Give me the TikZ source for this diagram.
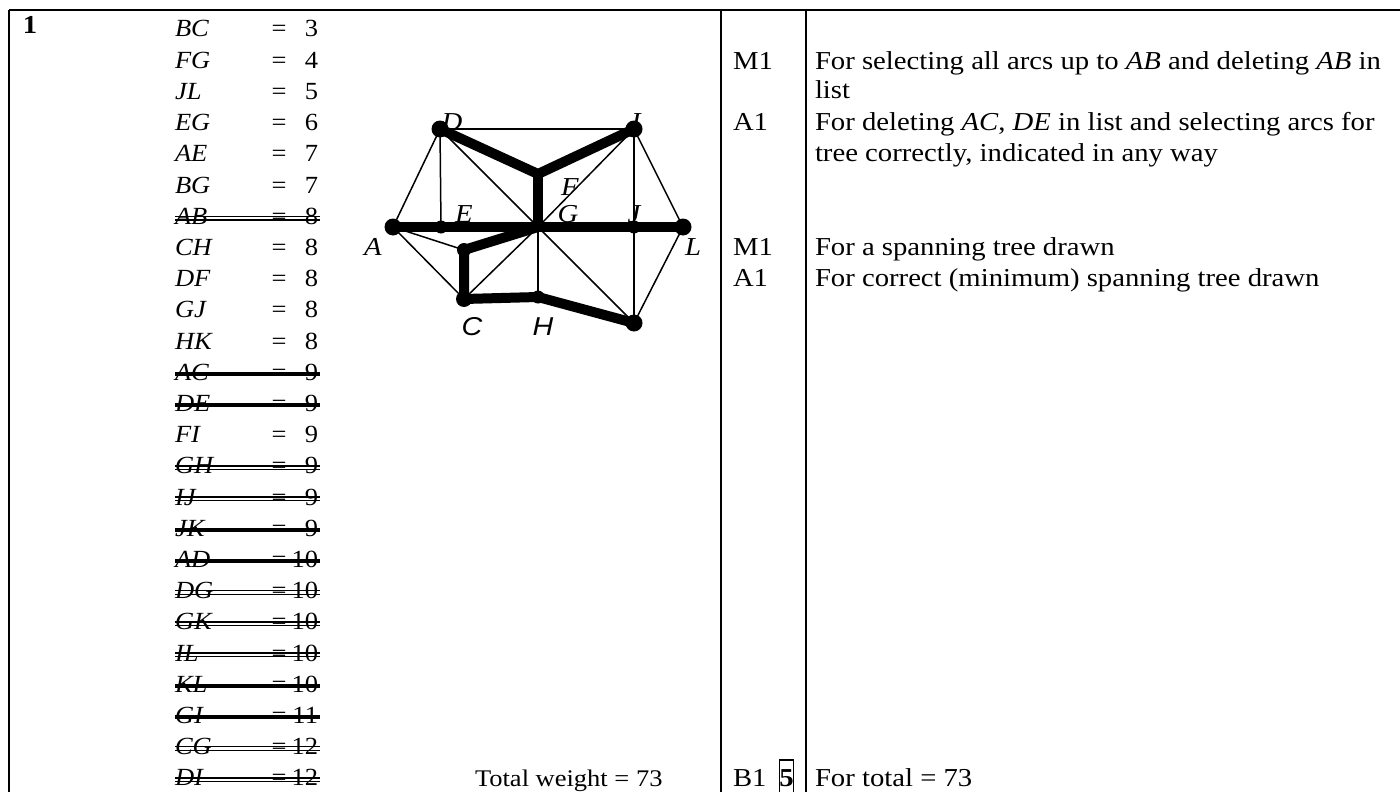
\documentclass[tikz,border=0pt]{standalone}
\usepackage{fontspec}
\setmainfont{Liberation Serif}
\newfontfamily\labsans{Liberation Sans}
\usepackage{graphicx}
\newcommand\sqz[1]{\scalebox{1}[0.9]{#1}}
\newcommand\sqzl[1]{\scalebox{1}[0.93]{#1}}
\tikzset{
  txt/.style={font=\fontsize{28.7}{34}\selectfont, inner sep=0pt, outer sep=0pt},
  listtxt/.style={font=\fontsize{26.5}{32}\selectfont, inner sep=0pt, outer sep=0pt},
  grid/.style={line width=2.3pt},
  thinedge/.style={line width=1.5pt},
  treeedge/.style={line width=10pt},
  strk/.style={line width=3.8pt},
  dbl/.style={line width=1.3pt},
}
\begin{document}
\begin{tikzpicture}[x=1pt,y=-1pt]
\useasboundingbox (0,0) rectangle (1400,792);
% table frame
\coordinate (tl) at (9,10);
\coordinate (tr) at (1410,10);
\coordinate (bl) at (9,810);
\coordinate (c1t) at (721,10);
\coordinate (c1b) at (721,810);
\coordinate (c2t) at (806,10);
\coordinate (c2b) at (806,810);
\draw[grid] (tl) -- (tr);
\draw[grid] (tl) -- (bl);
\draw[grid] (c1t) -- (c1b);
\draw[grid] (c2t) -- (c2b);
% question number
\node[txt, anchor=base] (qnum) at (30,34) {\sqz{\bfseries 1}};
% list of arcs
\foreach \i/\nm/\v/\s in {0/BC/3/0, 1/FG/4/0, 2/JL/5/0, 3/EG/6/0, 4/AE/7/0, 5/BG/7/0,
  6/AB/8/2, 7/CH/8/0, 8/DF/8/0, 9/GJ/8/0, 10/HK/8/0, 11/AC/9/1, 12/DE/9/1, 13/FI/9/0,
  14/GH/9/2, 15/IJ/9/2, 16/JK/9/1, 17/AD/10/1, 18/DG/10/2, 19/GK/10/2, 20/IL/10/2,
  21/KL/10/1, 22/GI/11/1, 23/CG/12/2, 24/DI/12/2} {
  \pgfmathsetmacro\yy{29+31.2*\i}
  \node[listtxt, anchor=base west] (n\i) at (175,\yy+8) {\sqzl{\itshape \nm}};
  \node[listtxt, anchor=base] (e\i) at (279,\yy+8) {\sqzl{=}};
  \node[listtxt, anchor=base east] (v\i) at (318,\yy+8) {\sqzl{\v}};
  \ifnum\s=1 \draw[strk] (175,\yy+1.5) -- (320,\yy+1.5); \fi
  \ifnum\s=2
    \draw[dbl] (175,\yy+0.1) -- (320,\yy+0.1);
    \draw[dbl] (175,\yy+3.7) -- (320,\yy+3.7);
  \fi
}
% graph vertices
\coordinate (A) at (393,227);
\coordinate (D) at (440,129);
\coordinate (I) at (634,129);
\coordinate (F) at (538,174);
\coordinate (E) at (441,227);
\coordinate (G) at (538,227);
\coordinate (J) at (634,227);
\coordinate (L) at (683,227);
\coordinate (B) at (464,250);
\coordinate (C) at (464,299);
\coordinate (H) at (538,297);
\coordinate (K) at (634,323);
% labels
\node[txt] (lD) at (452,122) {\sqz{\itshape D}};
\node[txt] (lI) at (636,122) {\sqz{\itshape I}};
\node[txt] (lF) at (570,187) {\sqz{\itshape F}};
\node[txt] (lE) at (464,214) {\sqz{\itshape E}};
\node[txt] (lG) at (568,214) {\sqz{\itshape G}};
\node[txt] (lJ) at (634,214) {\sqz{\itshape J}};
\node[txt] (lA) at (373,247) {\sqz{\itshape A}};
\node[txt] (lL) at (693,247) {\sqz{\itshape L}};
\node[txt] (lC) at (472,327) {\sqz{\labsans\itshape C}};
\node[txt] (lH) at (543,327) {\sqz{\labsans\itshape H}};
% thin (rejected) arcs
\draw[thinedge] (D) -- (I);
\draw[thinedge] (A) -- (D);
\draw[thinedge] (D) -- (E);
\draw[thinedge] (D) -- (G);
\draw[thinedge] (I) -- (G);
\draw[thinedge] (I) -- (J);
\draw[thinedge] (J) -- (K);
\draw[thinedge] (I) -- (L);
\draw[thinedge] (A) -- (B);
\draw[thinedge] (A) -- (C);
\draw[thinedge] (C) -- (G);
\draw[thinedge] (G) -- (H);
\draw[thinedge] (G) -- (K);
\draw[thinedge] (L) -- (K);
% spanning tree
\draw[treeedge] (D) -- (F) -- (I);
\draw[treeedge] (F) -- (G);
\draw[treeedge] (A) -- (E) -- (G) -- (J) -- (L);
\draw[treeedge] (G) -- (B) -- (C) -- (H) -- (K);
% vertex dots
\foreach \p/\r in {A/8.5, D/8.5, I/8.5, L/8.5, K/8.5, C/8, B/7, E/6.5, J/6.5, H/6.5} {
  \fill (\p) circle (\r);
}
% total weight
\node[txt, font=\fontsize{26.5}{32}\selectfont, anchor=base west] (tw) at (475,786) {\sqz{Total weight = 73}};
% marks column
\node[txt, anchor=base west] (m1) at (733,70) {\sqz{M1}};
\node[txt, anchor=base west] (a1) at (733,130) {\sqz{A1}};
\node[txt, anchor=base west] (m2) at (733,255) {\sqz{M1}};
\node[txt, anchor=base west] (a2) at (733,286) {\sqz{A1}};
\node[txt, anchor=base west] (b1) at (733,786) {\sqz{B1}};
\node[txt, anchor=base] (five) at (786.5,786) {\sqz{\bfseries 5}};
\draw[line width=1.6pt] (779.5,760) rectangle (793.5,805);
% comments column
\node[txt, anchor=base west] (r1) at (815,70) {\sqz{For selecting all arcs up to \textit{AB} and deleting \textit{AB} in}};
\node[txt, anchor=base west] (r2) at (815,99) {\sqz{list}};
\node[txt, anchor=base west] (r3) at (815,130) {\sqz{For deleting \textit{AC}, \textit{DE} in list and selecting arcs for}};
\node[txt, anchor=base west] (r4) at (815,161) {\sqz{tree correctly, indicated in any way}};
\node[txt, anchor=base west] (r5) at (815,255) {\sqz{For a spanning tree drawn}};
\node[txt, anchor=base west] (r6) at (815,286) {\sqz{For correct (minimum) spanning tree drawn}};
\node[txt, anchor=base west] (r7) at (815,786) {\sqz{For total = 73}};
\end{tikzpicture}
\end{document}
